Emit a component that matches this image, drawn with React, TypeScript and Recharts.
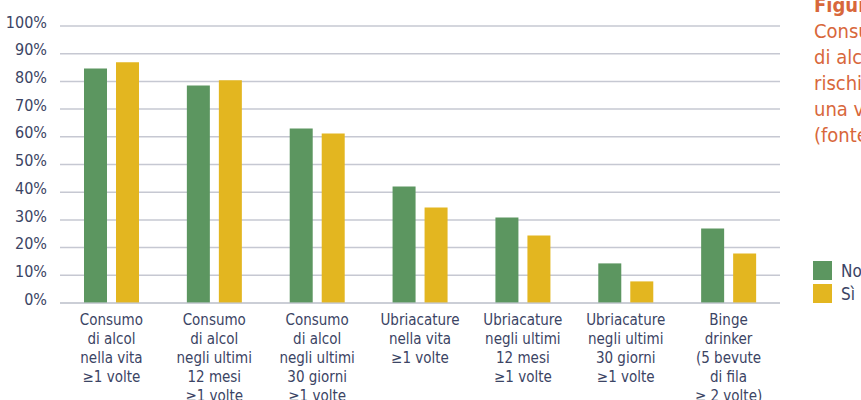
import { BarChart, Bar, XAxis, YAxis, CartesianGrid, ReferenceLine } from 'recharts'

// ── Data ──────────────────────────────────────────────────────────────────────

const categories = ['c1', 'c2', 'c3', 'c4', 'c5', 'c6', 'c7']

const categoryLines = [
  ['Consumo', 'di alcol', 'nella vita', '≥1 volte'],
  ['Consumo', 'di alcol', 'negli ultimi', '12 mesi', '≥1 volte'],
  ['Consumo', 'di alcol', 'negli ultimi', '30 giorni', '≥1 volte'],
  ['Ubriacature', 'nella vita', '≥1 volte'],
  ['Ubriacature', 'negli ultimi', '12 mesi', '≥1 volte'],
  ['Ubriacature', 'negli ultimi', '30 giorni', '≥1 volte'],
  ['Binge', 'drinker', '(5 bevute', 'di fila', '≥ 2 volte)'],
]

const noValues = [84.7, 78.5, 63, 42.1, 30.9, 14.3, 26.9]
const siValues = [86.9, 80.4, 61.2, 34.5, 24.4, 7.8, 17.9]

const yTicks = [0, 10, 20, 30, 40, 50, 60, 70, 80, 90, 100]

const legendItems = ['No', 'Sì']

const titleLines = ['Consumo', 'di alcol e comportamenti', 'rischiosi almeno', 'una volta', '(fonte: ESPAD)']

const data = categories.map((cat, i) => ({ cat, no: noValues[i], si: siValues[i] }))

// ── Styles ────────────────────────────────────────────────────────────────────

const FONT = '"Liberation Sans Narrow", "DejaVu Sans Condensed", "Open Sans", sans-serif'
const TEXT = '#3b4464'
const GREEN = '#5c9660'
const YELLOW = '#e3b620'
const ORANGE = '#d8673b'
const GRID = '#c6c8d2'
const SERIES_COLORS = [GREEN, YELLOW]

function CategoryTick({ x, y, payload }: any) {
  const lines = categoryLines[payload.index] || []
  return (
    <text x={x} y={y} textAnchor="middle" fill={TEXT} fontSize={15} fontFamily={FONT}>
      {lines.map((l, i) => (
        <tspan key={i} x={x} dy={i === 0 ? 21.5 : 19}>{l}</tspan>
      ))}
    </text>
  )
}

export default function App() {
  return (
    <div style={{ position: 'absolute', left: 0, top: 0, width: 861, height: 400, overflow: 'hidden', background: '#fff' }}>
      <BarChart
        width={861}
        height={400}
        data={data}
        margin={{ top: 26, right: 81, left: 0, bottom: 0 }}
        barSize={23}
        barGap={9}
      >
        <CartesianGrid horizontal vertical={false} stroke={GRID} strokeWidth={1.5} />
        <XAxis
          dataKey="cat"
          interval={0}
          height={97}
          tickLine={false}
          axisLine={false}
          tickSize={0}
          tickMargin={0}
          tick={<CategoryTick />}
        />
        <YAxis
          domain={[0, 100]}
          ticks={yTicks}
          interval={0}
          width={60}
          tickLine={false}
          axisLine={false}
          tickSize={0}
          tickMargin={13}
          tickFormatter={(v) => `${v}%`}
          tick={{ fill: TEXT, fontSize: 16, fontFamily: FONT, dy: -4 }}
        />
        <Bar dataKey="no" name="No" fill={GREEN} isAnimationActive={false} />
        <Bar dataKey="si" name="Sì" fill={YELLOW} isAnimationActive={false} />
        <ReferenceLine y={0} stroke={GRID} strokeWidth={1.5} strokeOpacity={0.8} />
      </BarChart>

      {/* legend */}
      <div style={{ position: 'absolute', left: 813, top: 261, fontFamily: FONT }}>
        {legendItems.map((label, i) => (
          <div key={label} style={{ display: 'flex', alignItems: 'center', height: 19, marginBottom: 4 }}>
            <div style={{ width: 19, height: 19, background: SERIES_COLORS[i] }} />
            <span style={{ marginLeft: 9, fontSize: 17, color: TEXT }}>{label}</span>
          </div>
        ))}
      </div>

      {/* figure caption, cut by the right edge */}
      <div
        style={{
          position: 'absolute', left: 814, top: -8, whiteSpace: 'nowrap',
          fontFamily: FONT, color: ORANGE, fontSize: 20, lineHeight: '26px',
        }}
      >
        <div style={{ fontWeight: 'bold' }}>Figura 3</div>
        {titleLines.map((t) => (
          <div key={t}>{t}</div>
        ))}
      </div>
    </div>
  )
}
